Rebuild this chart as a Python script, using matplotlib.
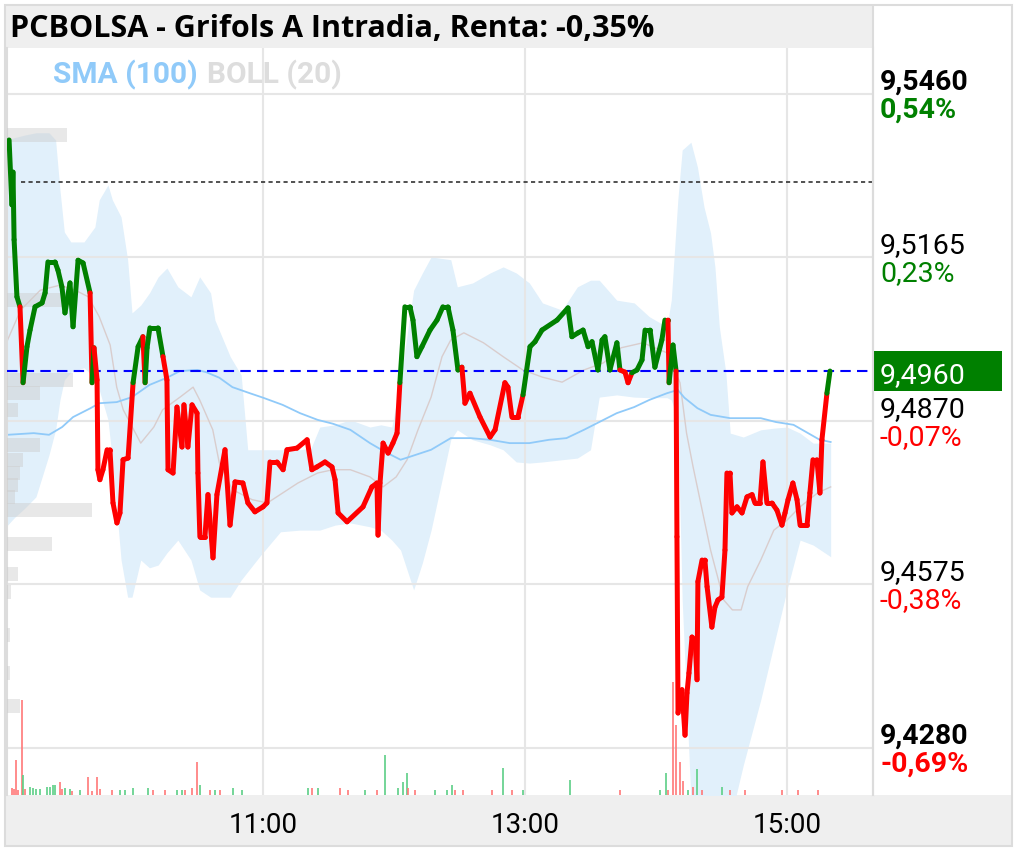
"""
PCBOLSA - Grifols A intraday chart (price, bollinger, sma, volume)
"""

import numpy as np
import matplotlib.pyplot as plt
import matplotlib.transforms as mtransforms
from matplotlib.collections import LineCollection
from matplotlib.patches import Rectangle

plt.rcParams['font.family'] = ['Roboto', 'DejaVu Sans']

title = "PCBOLSA - Grifols A Intradia, Renta: -0,35%"
ref_price = 9.4960      # last price (blue dashed line / green box)
prev_close = 9.5301     # black dotted line
dotted_from = 9

tick_prices = [9.5460, 9.5165, 9.4870, 9.4575, 9.4280]
tick_price_labels = ["9,5460", "9,5165", "9,4870", "9,4575", "9,4280"]
tick_pct_labels = ["0,54%", "0,23%", "-0,07%", "-0,38%", "-0,69%"]
tick_bold = [True, False, False, False, True]

time_ticks = [120, 240, 360]          # minutes after 09:00
time_labels = ["11:00", "13:00", "15:00"]

# price, minutes after 09:00
price_min = [3.7, 5.0, 5.5, 6.0, 7.3, 8.7, 10.1, 11.9, 13.3, 15.6, 18.8, 20.2, 21.5, 24.7, 26.1,
             27.9, 29.3, 31.6, 33.0, 35.3, 37.6, 40.8, 41.7, 42.6, 44.0, 44.4, 45.3, 46.7, 48.6,
             49.9, 51.3, 53.1, 54.5, 55.9, 58.2, 60.5, 62.8, 65.0, 66.0, 66.9, 68.2, 71.9, 74.2,
             76.0, 76.5, 78.8, 80.6, 82.9, 83.8, 85.6, 87.5, 89.8, 90.2, 91.1, 93.4, 94.8, 97.1,
             98.9, 102.6, 104.9, 107.2, 110.8, 113.1, 116.3, 120.0, 121.8, 123.2, 126.4, 129.2,
             131.0, 135.6, 140.2, 142.4, 144.7, 148.4, 151.6, 153.0, 154.4, 158.5, 165.8, 169.9,
             172.2, 172.7, 173.6, 175.0, 177.3, 179.5, 181.4, 182.7, 185.0, 187.3, 188.7, 190.5,
             192.8, 196.5, 199.7, 202.4, 204.7, 207.0, 209.3, 211.1, 212.5, 214.8, 219.4, 224.0,
             226.3, 230.8, 232.2, 234.0, 236.8, 239.1, 242.3, 244.6, 247.8, 254.7, 259.7, 261.5,
             264.3, 266.6, 268.9, 270.7, 273.4, 275.3, 276.6, 278.9, 282.1, 283.5, 285.8, 287.2,
             289.0, 291.3, 293.6, 295.0, 297.3, 299.5, 302.7, 304.1, 305.5, 306.0, 307.8, 309.2,
             309.6, 310.1, 311.9, 313.3, 314.2, 315.1, 316.5, 317.9, 318.8, 319.2, 321.1, 322.4,
             323.4, 325.6, 327.0, 328.4, 330.2, 331.6, 332.5, 333.9, 334.8, 337.1, 339.4, 341.7,
             344.0, 345.3, 347.6, 349.0, 350.8, 353.1, 355.4, 357.7, 359.1, 360.5, 362.7, 364.6,
             366.0, 369.2, 370.5, 371.9, 373.7, 375.1, 376.0, 378.3, 379.7]
price_val = [9.5377, 9.5260, 9.5319, 9.5197, 9.5094, 9.5076, 9.4939, 9.5004, 9.5034, 9.5076, 9.5083,
             9.5101, 9.5157, 9.5157, 9.5142, 9.5112, 9.5065, 9.5119, 9.5040, 9.5160, 9.5155,
             9.5101, 9.4939, 9.5002, 9.4944, 9.4782, 9.4764, 9.4782, 9.4818, 9.4818, 9.4722,
             9.4686, 9.4704, 9.4800, 9.4803, 9.4939, 9.5004, 9.5022, 9.4939, 9.5002, 9.5038,
             9.5038, 9.4986, 9.4944, 9.4782, 9.4776, 9.4895, 9.4823, 9.4899, 9.4823, 9.4899,
             9.4884, 9.4776, 9.4661, 9.4661, 9.4737, 9.4623, 9.4737, 9.4818, 9.4682, 9.4760,
             9.4758, 9.4722, 9.4706, 9.4715, 9.4722, 9.4796, 9.4796, 9.4782, 9.4818, 9.4821,
             9.4836, 9.4782, 9.4787, 9.4796, 9.4787, 9.4764, 9.4704, 9.4688, 9.4715, 9.4751,
             9.4758, 9.4664, 9.4758, 9.4830, 9.4812, 9.4830, 9.4848, 9.4939, 9.5076, 9.5076,
             9.5052, 9.4986, 9.5004, 9.5034, 9.5052, 9.5076, 9.5076, 9.5034, 9.4962, 9.4967,
             9.4902, 9.4920, 9.4877, 9.4841, 9.4854, 9.4939, 9.4931, 9.4877, 9.4877, 9.4917,
             9.5004, 9.5013, 9.5034, 9.5052, 9.5074, 9.5022, 9.5029, 9.5034, 9.5004, 9.5013,
             9.4962, 9.5016, 9.5022, 9.4962, 9.5011, 9.4962, 9.4958, 9.4939, 9.4957, 9.4962,
             9.4980, 9.5034, 9.5034, 9.4967, 9.5016, 9.5052, 9.5052, 9.4939, 9.5007, 9.4960,
             9.4661, 9.4343, 9.4385, 9.4303, 9.4379, 9.4415, 9.4480, 9.4475, 9.4403, 9.4580,
             9.4619, 9.4619, 9.4571, 9.4498, 9.4534, 9.4547, 9.4552, 9.4637, 9.4776, 9.4776,
             9.4704, 9.4715, 9.4704, 9.4733, 9.4737, 9.4722, 9.4722, 9.4796, 9.4722, 9.4722,
             9.4709, 9.4682, 9.4704, 9.4728, 9.4758, 9.4728, 9.4682, 9.4682, 9.4740, 9.4800,
             9.4800, 9.4740, 9.4836, 9.4920, 9.4960]

# bollinger (20) bands
band_min = [3, 6, 11, 16, 22, 25, 27, 29, 32, 38, 43, 45, 49, 51, 55, 58, 60, 64, 68, 72,
            76, 81, 87, 91, 96, 98, 105, 110, 113, 119, 128, 137, 142, 146, 153, 160, 169, 174,
            179, 183, 189, 193, 197, 206, 209, 216, 224, 230, 236, 242, 248, 257, 264, 270,
            274, 282, 290, 297, 305, 307, 310, 312, 316, 319, 322, 325, 327, 329, 332, 334,
            340, 348, 354, 360, 366, 372, 380]
band_up = [9.5377, 9.5381, 9.5386, 9.5390, 9.5390, 9.5377, 9.5287, 9.5211, 9.5193, 9.5193,
           9.5220, 9.5269, 9.5296, 9.5269, 9.5238, 9.5161, 9.5065, 9.5079, 9.5101, 9.5130,
           9.5146, 9.5112, 9.5094, 9.5130, 9.5101, 9.5052, 9.4986, 9.4953, 9.4818, 9.4818,
           9.4818, 9.4818, 9.4821, 9.4859, 9.4863, 9.4872, 9.4859, 9.4863, 9.4859, 9.4944,
           9.5106, 9.5137, 9.5166, 9.5161, 9.5112, 9.5119, 9.5137, 9.5148, 9.5137, 9.5119,
           9.5083, 9.5070, 9.5112, 9.5124, 9.5124, 9.5088, 9.5083, 9.5058, 9.5040, 9.5088,
           9.5269, 9.5359, 9.5373, 9.5328, 9.5256, 9.5209, 9.5148, 9.5040, 9.4957, 9.4848,
           9.4841, 9.4854, 9.4857, 9.4859, 9.4848, 9.4830, 9.4830]
band_low = [9.4682, 9.4695, 9.4713, 9.4733, 9.4809, 9.4854, 9.4908, 9.4944, 9.4958, 9.4966,
            9.4948, 9.4926, 9.4872, 9.4800, 9.4619, 9.4552, 9.4552, 9.4619, 9.4605, 9.4610,
            9.4632, 9.4655, 9.4619, 9.4565, 9.4552, 9.4552, 9.4552, 9.4583, 9.4598, 9.4628,
            9.4670, 9.4673, 9.4673, 9.4673, 9.4682, 9.4686, 9.4679, 9.4673, 9.4655, 9.4637,
            9.4565, 9.4614, 9.4673, 9.4836, 9.4854, 9.4836, 9.4827, 9.4818, 9.4796, 9.4794,
            9.4796, 9.4800, 9.4803, 9.4818, 9.4913, 9.4917, 9.4913, 9.4912, 9.4912, 9.4908,
            9.4872, 9.4547, 9.4186, 9.4096, 9.4096, 9.4096, 9.4096, 9.4096, 9.4114, 9.4150,
            9.4249, 9.4367, 9.4466, 9.4565, 9.4655, 9.4646, 9.4625]

# bollinger middle line
mid_min = [3, 9, 18, 27, 34, 40, 45, 50, 53, 56, 64, 70, 74, 82, 88, 91, 97, 100, 106, 115,
           122, 129, 136, 145, 152, 160, 169, 175, 181, 186, 191, 197, 202, 206, 212, 221, 230,
           239, 248, 257, 267, 276, 284, 294, 305, 311, 314, 317, 325, 331, 335, 339, 342, 348,
           354, 360, 366, 374, 380]
mid_val = [9.5016, 9.5070, 9.5106, 9.5115, 9.5106, 9.5094, 9.5058, 9.5007, 9.4931, 9.4890,
           9.4830, 9.4859, 9.4890, 9.4913, 9.4931, 9.4908, 9.4854, 9.4794, 9.4746, 9.4728,
           9.4722, 9.4740, 9.4758, 9.4776, 9.4782, 9.4782, 9.4769, 9.4751, 9.4769, 9.4800,
           9.4854, 9.4913, 9.4986, 9.5016, 9.5029, 9.5011, 9.4986, 9.4962, 9.4949, 9.4940,
           9.4962, 9.4975, 9.5002, 9.5011, 9.4993, 9.4939, 9.4848, 9.4787, 9.4637, 9.4547,
           9.4529, 9.4529, 9.4571, 9.4619, 9.4673, 9.4691, 9.4715, 9.4740, 9.4751]

# SMA (100)
sma_min = [3, 15, 22, 28, 33, 41, 45, 53, 60, 68, 76, 82, 90, 94, 100, 106, 114, 120, 129, 137,
           145, 152, 160, 169, 176, 183, 187, 197, 206, 215, 224, 233, 242, 251, 259, 267, 274,
           282, 290, 297, 305, 310, 313, 319, 325, 334, 348, 355, 363, 371, 375, 380]
sma_val = [9.4845, 9.4848, 9.4845, 9.4859, 9.4877, 9.4893, 9.4902, 9.4904, 9.4913, 9.4935,
           9.4948, 9.4960, 9.4962, 9.4958, 9.4948, 9.4931, 9.4920, 9.4912, 9.4899, 9.4884,
           9.4872, 9.4865, 9.4854, 9.4830, 9.4814, 9.4800, 9.4805, 9.4818, 9.4839, 9.4839,
           9.4836, 9.4830, 9.4830, 9.4836, 9.4839, 9.4854, 9.4868, 9.4884, 9.4895, 9.4908,
           9.4920, 9.4926, 9.4912, 9.4893, 9.4881, 9.4875, 9.4875, 9.4868, 9.4863, 9.4845,
           9.4836, 9.4832]

# volume per trade
vol_min = [5.0, 5.9, 6.9, 7.8, 9.6, 10.1, 11.0, 13.3, 14.7, 16.0, 17.9, 21.1, 22.4, 23.8, 24.7,
           27.0, 27.9, 29.3, 31.6, 32.5, 36.2, 39.8, 41.7, 44.0, 45.3, 50.8, 54.5, 56.8, 60.5,
           67.3, 69.6, 75.1, 80.6, 82.9, 84.3, 87.5, 89.8, 91.1, 95.7, 98.0, 100.3, 106.3, 110.4,
           140.6, 142.4, 145.2, 155.3, 158.9, 166.7, 172.2, 175.9, 181.8, 184.1, 186.0, 186.4,
           189.6, 198.8, 204.3, 206.6, 207.9, 211.6, 224.9, 229.9, 234.0, 239.1, 260.6, 283.5,
           301.8, 304.6, 305.5, 307.8, 309.2, 311.0, 312.4, 314.7, 316.9, 318.8, 321.1, 330.2,
           333.9, 340.8, 357.7, 365.0, 374.2]
vol_val = [70, 60, 350, 50, 950, 200, 60, 80, 70, 60, 60, 80, 80, 100, 100,
           130, 60, 70, 60, 40, 50, 180, 40, 180, 60, 50, 50, 50, 70,
           70, 50, 50, 50, 50, 50, 70, 330, 100, 50, 50, 50, 70, 50,
           70, 70, 70, 70, 50, 50, 50, 400, 70, 130, 220, 70,
           50, 50, 50, 100, 50, 50, 50, 270, 50, 50, 150, 50,
           50, 220, 50, 1130, 700, 330, 140, 50, 80, 260, 50, 80,
           50, 50, 50, 50, 50]
vol_up = [0, 0, 0, 0, 0, 1, 0, 1, 1, 1, 1, 1, 1, 1, 1,
          0, 0, 1, 1, 0, 1, 0, 0, 0, 0, 0, 1, 1, 1,
          1, 0, 0, 1, 1, 0, 0, 0, 1, 0, 1, 0, 1, 1,
          1, 0, 1, 0, 0, 1, 0, 1, 1, 1, 1, 0,
          0, 1, 1, 1, 0, 0, 0, 1, 0, 1, 1, 0,
          1, 1, 0, 0, 0, 0, 0, 1, 0, 1, 0, 1,
          0, 0, 0, 0, 0]

# volume by price (left profile)
prof_price = [9.5386, 9.5088, 9.4944, 9.4920, 9.4890, 9.4827, 9.4800, 9.4776, 9.4755, 9.4733,
              9.4709, 9.4648, 9.4594, 9.4561, 9.4484, 9.4415, 9.4356]
prof_vol = [6000, 5600, 6600, 3300, 1100, 3300, 1600, 1300, 1100, 800,
            8500, 4500, 1100, 400, 300, 300, 1300]

GREEN = '#008000'
RED = '#ff0000'

W, H = 1017, 851
fig = plt.figure(figsize=(W / 100, H / 100), dpi=100)


def fx(px):
    return px / W


def fy(py):
    return 1 - py / H


# frame: title bar, bottom bar, border
fig.patches.append(Rectangle((fx(6), fy(48)), fx(867), 42 / H, transform=fig.transFigure,
                             facecolor='#efefef', edgecolor='none', zorder=-1))
fig.patches.append(Rectangle((fx(6), fy(846)), fx(1006), 51 / H, transform=fig.transFigure,
                             facecolor='#efefef', edgecolor='none', zorder=-1))
fig.patches.append(Rectangle((fx(5), fy(846)), fx(1007), 841 / H, transform=fig.transFigure,
                             facecolor='none', edgecolor='#dcdcdc', lw=1.5, zorder=5))

ax = fig.add_axes([fx(7), fy(795), fx(866), 747 / H])
ax.set_xlim(2.75, 399.4)
ax.set_ylim(9.4195, 9.5543)
for s in ['top', 'bottom']:
    ax.spines[s].set_visible(False)
for s in ['left', 'right']:
    ax.spines[s].set_color('#dcdcdc')
    ax.spines[s].set_linewidth(1.5)

ax.set_yticks(tick_prices)
ax.set_yticklabels([])
ax.set_xticks(time_ticks)
ax.set_xticklabels(time_labels, fontsize=20)
ax.tick_params(axis='both', length=0)
ax.tick_params(axis='x', pad=12)

# bands and averages
ax.fill_between(band_min, band_low, band_up, color='#e1f0fb', lw=0, zorder=1)
for p in tick_prices:
    ax.axhline(p, color='#e6e6e6', lw=1.5, zorder=1.5)
for t in time_ticks:
    ax.axvline(t, color='#e6e6e6', lw=1.5, zorder=1.5)
ax.plot(mid_min, mid_val, color='#d9cdcd', lw=1.0, zorder=2)
ax.plot(sma_min, sma_val, color='#90caf9', lw=1.3, zorder=2)

# volume profile
ax_prof = ax.twiny()
ax_prof.set_xlim(0, 86600)
ax_prof.barh(prof_price, prof_vol, height=0.0025, align='center', color='#cccccc', alpha=0.45, lw=0)
ax_prof.axis('off')

# volume bars
ax_vol = ax.twinx()
ax_vol.set_ylim(0, 7470)
vol_colors = ['#5fcf88' if u else '#ff7a7a' for u in vol_up]
ax_vol.bar(vol_min, vol_val, width=0.8, color=vol_colors, alpha=0.85, lw=0)
ax_vol.axis('off')

# price line layer
ax_line = fig.add_axes(ax.get_position(), sharex=ax, sharey=ax)
ax_line.axis('off')
ax_line.axhline(ref_price, color='#0000ff', lw=1.5, dashes=(5, 3), zorder=1)
ax_line.hlines(prev_close, dotted_from, 399.4, color='#333333', lw=1.2, linestyles=(0, (2.5, 2)), zorder=1)

pts = np.column_stack([price_min, price_val])
segs = np.stack([pts[:-1], pts[1:]], axis=1)
seg_colors = [GREEN if v >= ref_price else RED for v in price_val[1:]]
lc = LineCollection(segs, colors=seg_colors, linewidths=3.6, capstyle='round', joinstyle='round', zorder=3)
ax_line.add_collection(lc)

# right hand price / percent labels
trans = mtransforms.blended_transform_factory(ax.transAxes, ax.transData)
for p, lab, pct, b in zip(tick_prices, tick_price_labels, tick_pct_labels, tick_bold):
    w = 'bold' if b else 'normal'
    ax.annotate(lab, xy=(1, p), xycoords=trans, xytext=(7, 4), textcoords='offset pixels',
                fontsize=20.5, fontweight=w, color='black', va='baseline', ha='left', annotation_clip=False)
    ax.annotate(pct, xy=(1, p), xycoords=trans, xytext=(7, -24), textcoords='offset pixels',
                fontsize=20.5, fontweight=w, color=RED if pct.startswith('-') else GREEN,
                va='baseline', ha='left', annotation_clip=False)

# last price box
box = Rectangle((1.0, ref_price - 0.0036), 129 / 866, 0.0072, transform=trans,
                facecolor=GREEN, edgecolor='none', clip_on=False, zorder=5)
ax.add_patch(box)
ax.annotate(f"{ref_price:.4f}".replace('.', ','), xy=(1, ref_price), xycoords=trans, xytext=(7, -12),
            textcoords='offset pixels', fontsize=20.5, color='white', va='baseline', ha='left',
            annotation_clip=False, zorder=6)

# right column separator
fig.add_artist(plt.Line2D([fx(873), fx(873)], [fy(6), fy(795)], color='#dcdcdc', lw=1.5))

# title and legend
fig.text(fx(10), fy(37), title, fontsize=22, fontweight='bold', family=['Open Sans', 'DejaVu Sans'],
         va='baseline', ha='left')
fig.text(fx(53), fy(83), "SMA (100)", fontsize=21.5, fontweight='bold', color='#90caf9', va='baseline')
fig.text(fx(207), fy(83), "BOLL (20)", fontsize=21.5, fontweight='bold', color='#dddddd', va='baseline')

fig.savefig('out.png', dpi=100)
